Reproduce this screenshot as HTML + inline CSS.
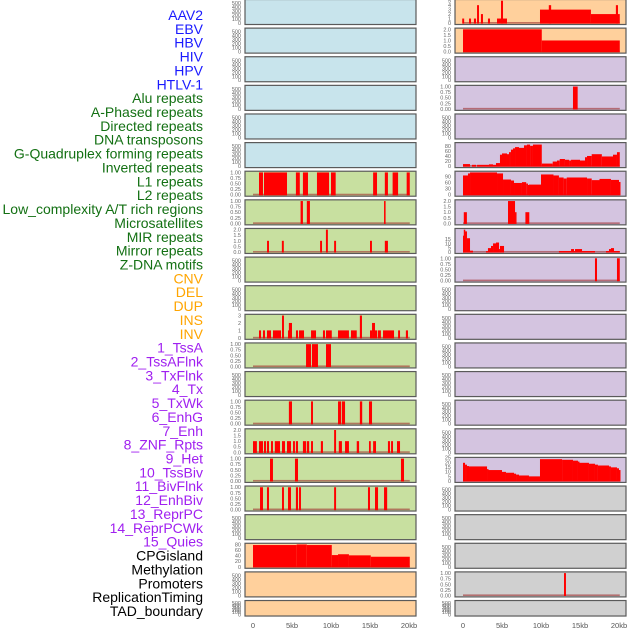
<!DOCTYPE html>
<html><head><meta charset="utf-8">
<style>
body{margin:0;background:#fff;width:630px;height:630px;overflow:hidden}
svg{display:block;font-family:"Liberation Sans",sans-serif}
</style></head>
<body>
<svg id="chart" width="630" height="630" viewBox="0 0 630 630"></svg>
<script>
const labels=["AAV2","EBV","HBV","HIV","HPV","HTLV-1","Alu repeats","A-Phased repeats","Directed repeats","DNA transposons","G-Quadruplex forming repeats","Inverted repeats","L1 repeats","L2 repeats","Low_complexity A/T rich regions","Microsatellites","MIR repeats","Mirror repeats","Z-DNA motifs","CNV","DEL","DUP","INS","INV","1_TssA","2_TssAFlnk","3_TxFlnk","4_Tx","5_TxWk","6_EnhG","7_Enh","8_ZNF_Rpts","9_Het","10_TssBiv","11_BivFlnk","12_EnhBiv","13_ReprPC","14_ReprPCWk","15_Quies","CPGisland","Methylation","Promoters","ReplicationTiming","TAD_boundary"];
const labelGroups=[6,13,5,15,5];
const groupColors=["#1a1aff","#137013","#ffa500","#a020f0","#000000"];
const xTickValues=[0,5,10,15,20];
const xTickLabels=["0","5kb","10kb","15kb","20kb"];
const col1Colors=["b","b","b","b","b","b","g","g","g","g","g","g","g","g","g","g","g","g","g","o","o","o"];
const col2Colors=["o","o","p","p","p","p","p","p","p","p","p","p","p","p","p","p","p","y","y","y","y","y"];
const colorMap={b:"#c8e4ec",g:"#c8e0a0",o:"#ffd09c",p:"#d4c4e0",y:"#d0d0d0"};
// segments: [startKb, endKb, value]
const c1r6=[[0.77,1.28,1],[1.41,4.36,1],[5.5,6.0,1],[6.4,7.05,1],[8.2,9.75,1],[10.0,10.6,1],[15.4,15.9,1],[16.9,17.3,1],[17.9,18.6,1],[19.7,20.1,1]];
const c1r7=[[6.1,6.4,1],[6.9,7.3,1],[16.8,17.0,1]];
const c1r8=[[1.8,2.05,1],[3.7,3.95,1],[8.6,8.85,1],[9.35,9.6,2],[10.4,10.65,1],[15.0,15.25,1],[16.9,17.3,1]];
const c1r11=[[0.77,1.03,1],[1.28,1.54,1],[1.79,2.31,1],[2.56,3.59,1],[3.72,3.97,3],[4.49,4.6,1],[4.6,5.0,2],[5.51,5.77,1],[5.9,6.54,1],[7.44,8.08,1],[8.97,9.23,1],[9.36,10.1,1],[10.9,12.3,1],[12.56,13.3,1],[13.7,13.97,3],[15.0,15.26,1],[15.26,15.64,2],[15.64,15.9,1],[16.0,16.4,1],[16.67,18.08,1],[18.6,18.85,1],[19.6,19.87,1]];
const c1r12=[[6.8,7.44,1],[7.56,8.33,1],[9.36,10.0,1]];
const c1r14=[[4.6,5.0,1],[7.44,7.69,1],[10.9,11.3,1],[11.4,11.8,1],[13.7,14.0,1],[14.87,15.26,1]];
const c1r15=[[0,0.5,1],[0.77,1.28,1],[1.41,1.67,1],[1.79,2.05,1],[2.31,2.56,1],[2.8,3.46,1],[3.72,4.1,1],[4.36,4.87,1],[5.13,5.38,1],[5.5,5.77,1],[6.4,6.8,1],[6.9,7.2,1],[7.44,7.69,1],[8.7,8.97,1],[10.4,10.65,2],[11.0,11.4,1],[11.8,12.3,1],[13.3,13.6,1],[14.87,15.1,1],[15.4,15.77,1],[17.3,17.56,1],[17.7,17.95,1],[18.46,18.85,1]];
const c1r16=[[2.18,2.56,1],[5.38,5.77,1],[18.97,19.36,1]];
const c1r17=[[0.9,1.28,1],[1.79,2.05,1],[3.72,3.97,1],[4.49,4.87,1],[5.5,5.77,1],[5.9,6.15,1],[10.4,10.65,1],[14.74,15.0,1],[15.64,16.03,1],[16.8,17.2,1]];
const c1r19=[[0,5.6,78],[5.6,6.9,80],[6.9,10.1,78],[10.1,10.9,42],[10.9,12.3,45],[12.3,15.1,41],[15.1,20.1,36]];
const c2r0=[[-0.1,0.15,1],[0.77,1.03,1],[1.4,1.67,1],[1.8,2.05,4],[2.3,2.56,2],[3.2,3.46,1],[4.36,5.64,1],[4.87,5.13,5],[9.87,16.4,3],[11.0,11.3,4],[16.4,20.1,2],[19.6,19.87,4]];
const c2r1=[[0,10.1,2],[10.1,20.1,1]];
const c2r3=[[14.1,14.7,1]];
const c2r5=[[0,0.9,8],[1.15,1.67,5],[1.8,3.33,5],[3.33,3.85,7],[3.85,4.23,5],[4.23,4.74,12],[4.74,5.0,45],[5.0,5.64,50],[5.64,5.9,47],[5.9,6.15,55],[6.15,6.41,65],[6.41,6.67,70],[6.67,7.18,75],[7.18,7.82,72],[7.82,8.2,82],[8.2,8.6,85],[8.6,8.97,80],[8.97,10.1,85],[10.1,11.5,10],[11.5,12.05,18],[12.05,12.4,22],[12.4,13.07,28],[13.07,13.6,25],[13.6,13.85,22],[13.85,15.0,25],[15.0,15.64,22],[15.64,15.9,35],[15.9,16.5,40],[16.5,17.8,47],[17.8,19.23,38],[19.23,19.74,45],[19.74,20.1,55]];
const c2r6=[[0,0.64,95],[0.64,0.9,105],[0.9,4.36,110],[4.36,5.13,105],[5.13,6.15,75],[6.15,6.54,70],[6.54,7.56,58],[7.56,8.1,62],[8.1,8.33,55],[8.33,8.46,48],[8.46,10.0,50],[10.0,11.6,100],[11.6,12.3,95],[12.3,12.9,85],[12.9,13.3,80],[13.3,15.9,85],[15.9,16.5,80],[16.5,17.5,72],[17.5,18.97,78],[18.97,20.0,73],[20.0,20.1,63]];
const c2r7=[[0.1,0.5,1],[5.77,6.67,2],[6.67,6.8,1],[8.0,8.5,1]];
const c2r8=[[0,0.1,19],[0.1,0.26,26],[0.26,0.51,24],[0.51,0.9,16],[0.9,1.28,1.5],[2.95,3.2,1],[3.2,3.59,4.5],[3.59,3.85,7],[3.85,4.23,10],[4.23,4.62,11],[4.62,4.74,3.4],[4.74,5.26,7],[12.3,13.85,1.1],[13.85,14.23,3.4],[14.23,14.36,1],[14.36,15.26,3.4],[15.26,16.92,1.1],[18.33,18.72,1.1],[18.72,18.97,3.4],[18.97,19.36,4.5],[19.36,20.1,1.1]];
const c2r9=[[16.92,17.18,1],[19.74,20.1,1]];
const c2r16=[[0,0.26,19.5],[0.26,0.51,17.5],[0.51,0.77,16],[0.77,3.08,15.6],[3.08,3.21,12.7],[3.21,5.0,11.7],[5.0,5.51,9.75],[5.51,6.54,8.8],[6.54,6.8,7.8],[6.8,7.18,6.8],[7.18,8.46,5.85],[8.46,9.87,4.9],[9.87,12.7,23.4],[12.7,14.1,22.75],[14.1,14.74,21.8],[14.74,14.87,20.8],[14.87,16.15,19.5],[16.15,16.92,18.5],[16.92,17.3,17.5],[17.3,18.72,16.6],[18.72,18.97,15.6],[18.97,19.74,14.6],[19.74,20.0,13.6],[20.0,20.13,11.7]];
const c2r20=[[12.95,13.2,1]];
const tickSets={e:[0,100,200,300,400,500],u:[0,0.25,0.5,0.75,1],t:[0,0.5,1,1.5,2],n3:[0,1,2,3],n5:[0,1,2,3,4,5],cg:[0,20,40,60,80],gq:[0,20,40,60,80],l1:[0,30,60,90],mir:[0,5,10,15],het:[0,5,10,15,20,25]};
// [col,row,data,ticks,ymax]
const panels=[
[0,6,c1r6,"u",1],[0,7,c1r7,"u",1],[0,8,c1r8,"t",2],[0,11,c1r11,"n3",3],[0,12,c1r12,"u",1],[0,14,c1r14,"u",1],[0,15,c1r15,"t",2],[0,16,c1r16,"u",1],[0,17,c1r17,"u",1],[0,19,c1r19,"cg",80],
[1,0,c2r0,"n5",5],[1,1,c2r1,"t",2],[1,3,c2r3,"u",1],[1,5,c2r5,"gq",88],[1,6,c2r6,"l1",110],[1,7,c2r7,"t",2],[1,8,c2r8,"mir",26],[1,9,c2r9,"u",1],[1,16,c2r16,"het",24],[1,20,c2r20,"u",1]];
const NS="http://www.w3.org/2000/svg";
const svg=document.getElementById('chart');
function mk(tag,attrs,parent){const e=document.createElementNS(NS,tag);for(const k in attrs)e.setAttribute(k,attrs[k]);(parent||svg).appendChild(e);return e;}
const colX=[245,455];const PW=171;
function rowTop(r){return r*28.62-0.5;}
function rowH(r){return r===21?15.5:25;}
function xScale(c,kb){return colX[c]+8+kb*7.8;}
function yScale(r,v,ymax){const t=rowTop(r),h=rowH(r);const y0=t+h-1.5,y1=t+1.2;return y0-(v/ymax)*(y0-y1);}
let idx=0;
labelGroups.forEach((n,g)=>{for(let i=0;i<n;i++){const t=mk('text',{x:203,y:20+idx*13.86,'text-anchor':'end','font-size':'14',fill:groupColors[g]});t.textContent=labels[idx];

idx++;}});
const panelMap={};panels.forEach(p=>panelMap[p[0]+'-'+p[1]]=p);
for(let c=0;c<2;c++){for(let r=0;r<22;r++){
 const p=panelMap[c+'-'+r];const t=rowTop(r),h=rowH(r);
 const g=mk('g',{});
 
 
 const bg=(c===0?col1Colors:col2Colors)[r];
 mk('rect',{x:colX[c],y:t,width:PW,height:h,fill:colorMap[bg],stroke:'#5a5a5a','stroke-width':1.2},g);
 const tk=p?tickSets[p[3]]:tickSets.e;const ymax=p?p[4]:560;
 tk.forEach(v=>{const tx=mk('text',{x:colX[c]-4,y:yScale(r,v,ymax)+2,'text-anchor':'end','font-size':'5.5',fill:'#666'},g);tx.textContent=(p&&p[3]==='u')?v.toFixed(2):(p&&p[3]==='t')?v.toFixed(1):String(v);
 
 });
 if(p){
  const y0=yScale(r,0,ymax);
  const base=mk('rect',{x:xScale(c,0),y:y0-1,width:xScale(c,20.1)-xScale(c,0),height:1.6,fill:'#a03030',opacity:0.6},g);
  
  
  p[2].forEach(s=>{const x0=xScale(c,s[0]),x1=xScale(c,s[1]);const yv=yScale(r,s[2],ymax);
   const b=mk('rect',{x:x0,y:yv,width:Math.max(x1-x0,1.5),height:y0+0.6-yv,fill:'#ff0000'},g);
   
   });
 }
}
 xTickValues.forEach((v,i)=>{const tx=mk('text',{x:xScale(c,v),y:628,'text-anchor':'middle','font-size':'7.5',fill:'#555'});tx.textContent=xTickLabels[i];
 
 });
}
</script>
</body></html>
